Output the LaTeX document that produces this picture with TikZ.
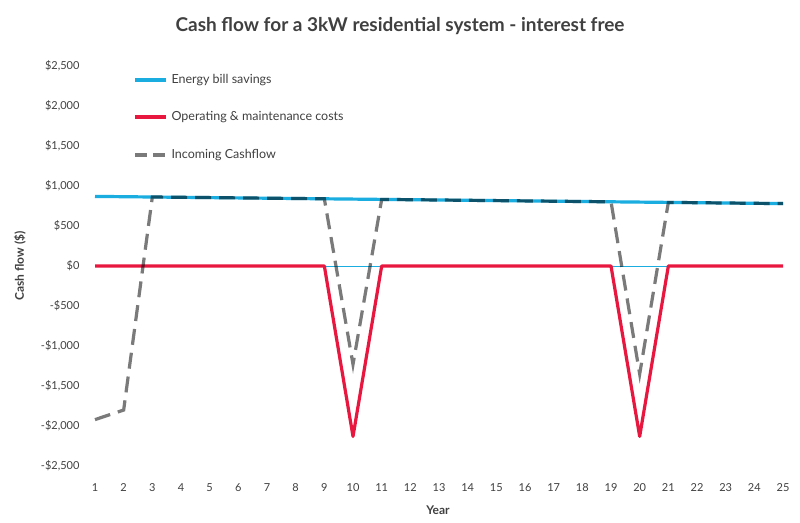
\documentclass[tikz,border=0pt]{standalone}
\usepackage{fontspec}
\setmainfont{Lato}
\definecolor{cy}{HTML}{1AADE0}
\definecolor{rd}{HTML}{E8173F}
\definecolor{gy}{HTML}{7A7A7A}
\definecolor{tx}{HTML}{404040}
\begin{document}
\begin{tikzpicture}[x=1pt,y=-1pt,
  tick/.style={font=\fontsize{11}{13}\selectfont,text=tx},
  sav/.style={cy,line width=3.2pt},
  om/.style={rd,line width=3.2pt,line join=round},
  inc/.style={gy,line width=3.2pt,dash pattern=on 16pt off 8pt,blend mode=multiply}]
\useasboundingbox (0,0) rectangle (800,522);
\fill[white] (0,0) rectangle (800,522);
\node[font=\bfseries\fontsize{19}{22}\selectfont,text=tx] (title) at (400,26) {Cash flow for a 3kW residential system - interest free};
\foreach \v/\l in {2500/{\$2,500},2000/{\$2,000},1500/{\$1,500},1000/{\$1,000},500/{\$500},0/{\$0},-500/{-\$500},-1000/{-\$1,000},-1500/{-\$1,500},-2000/{-\$2,000},-2500/{-\$2,500}}{
  \pgfmathsetmacro\yy{266-\v*0.08}
  \node[tick,anchor=east] (t\v) at (83,\yy) {\l};}
\foreach \i in {1,...,25}{
  \pgfmathsetmacro\xx{95+(\i-1)*28.667}
  \node[tick] (x\i) at (\xx,488) {\i};}
\node[tick,font=\bfseries\fontsize{12}{14}\selectfont] (xt) at (438,510) {Year};
\node[tick,font=\bfseries\fontsize{12}{14}\selectfont,rotate=90] (yt) at (20,266) {Cash flow (\$)};
\draw[cy,line width=0.6pt] (95,266) -- (783,266);
% savings
\draw[sav] (95,{266-870*0.08}) \foreach \i in {2,...,25}{ -- ({95+(\i-1)*28.667},{266-(870-(\i-1)*3.75)*0.08}) };
% O&M
\draw[om] (95,266) -- ({95+8*28.667},266) -- ({95+9*28.667},{266+2130*0.08}) -- ({95+10*28.667},266)
  -- ({95+18*28.667},266) -- ({95+19*28.667},{266+2130*0.08}) -- ({95+20*28.667},266) -- (783,266);
% incoming
\draw[inc] (95,{266+1920*0.08}) -- ({95+28.667},{266+1800*0.08})
  \foreach \i in {3,...,9}{ -- ({95+(\i-1)*28.667},{266-(870-(\i-1)*3.75)*0.08}) }
  -- ({95+9*28.667},{266+1230*0.08})
  \foreach \i in {11,...,19}{ -- ({95+(\i-1)*28.667},{266-(870-(\i-1)*3.75)*0.08}) }
  -- ({95+19*28.667},{266+1350*0.08})
  \foreach \i in {21,...,25}{ -- ({95+(\i-1)*28.667},{266-(870-(\i-1)*3.75)*0.08}) };
% legend
\coordinate (l1a) at (135,80); \coordinate (l1b) at (166,80);
\coordinate (l2a) at (135,117); \coordinate (l2b) at (166,117);
\coordinate (l3a) at (135,155); \coordinate (l3b) at (166,155);
\draw[sav] (l1a) -- (l1b);
\draw[om] (l2a) -- (l2b);
\draw[inc,dash pattern=on 12pt off 6pt] (l3a) -- (l3b);
\node[tick,font=\fontsize{12.5}{14}\selectfont,anchor=west] (g1) at (168,80) {Energy bill savings};
\node[tick,font=\fontsize{12.5}{14}\selectfont,anchor=west] (g2) at (168,117) {Operating \& maintenance costs};
\node[tick,font=\fontsize{12.5}{14}\selectfont,anchor=west] (g3) at (168,155) {Incoming Cashflow};
\end{tikzpicture}
\end{document}
